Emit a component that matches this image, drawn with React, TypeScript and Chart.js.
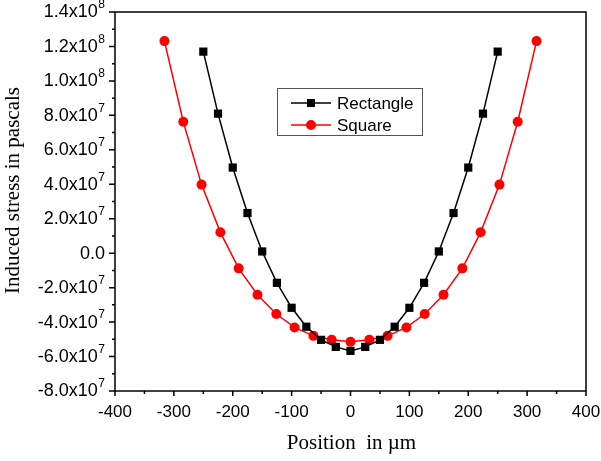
import React, { useEffect, useRef } from 'react';
import { Chart, registerables } from 'chart.js';

Chart.register(...registerables);

// Rectangle series
const rectPosition = [-250, -225, -200, -175, -150, -125, -100, -75, -50, -25, 0, 25, 50, 75, 100, 125, 150, 175, 200, 225, 250];
const rectStress = [11.7e7, 8.1e7, 4.97e7, 2.33e7, 0.1e7, -1.72e7, -3.17e7, -4.27e7, -5.03e7, -5.44e7, -5.67e7, -5.44e7, -5.03e7, -4.27e7, -3.17e7, -1.72e7, 0.1e7, 2.33e7, 4.97e7, 8.1e7, 11.7e7];

// Square series
const squarePosition = [-316, -284, -253, -221, -190, -158, -126, -95, -63, -32, 0, 32, 63, 95, 126, 158, 190, 221, 253, 284, 316];
const squareStress = [12.31e7, 7.63e7, 3.98e7, 1.21e7, -0.88e7, -2.41e7, -3.53e7, -4.31e7, -4.8e7, -5.03e7, -5.14e7, -5.03e7, -4.8e7, -4.31e7, -3.53e7, -2.41e7, -0.88e7, 1.21e7, 3.98e7, 7.63e7, 12.31e7];

const seriesNames = ['Rectangle', 'Square'];

// Y tick labels: mantissa part and superscript exponent
const yTickValues = [-8e7, -6e7, -4e7, -2e7, 0, 2e7, 4e7, 6e7, 8e7, 1e8, 1.2e8, 1.4e8];
const yTickBases = ['-8.0x10', '-6.0x10', '-4.0x10', '-2.0x10', '0.0', '2.0x10', '4.0x10', '6.0x10', '8.0x10', '1.0x10', '1.2x10', '1.4x10'];
const yTickExps = ['7', '7', '7', '7', '', '7', '7', '7', '7', '8', '8', '8'];

const xTitle = 'Position  in µm';
const yTitle = 'Induced stress in pascals';

const SANS = '"Liberation Sans", Arial, sans-serif';
const SERIF = '"Liberation Serif", "Times New Roman", serif';

const framePlugin = {
  id: 'frameTicks',
  beforeDatasetsDraw(chart: any) {
    const { ctx, chartArea } = chart;
    const xs = chart.scales.x;
    const ys = chart.scales.y;
    ctx.save();
    ctx.strokeStyle = '#000';
    ctx.lineWidth = 1.5;
    ctx.strokeRect(chartArea.left, chartArea.top, chartArea.right - chartArea.left, chartArea.bottom - chartArea.top);
    ctx.beginPath();
    for (let v = xs.min; v <= xs.max + 1e-6; v += 50) {
      const px = xs.getPixelForValue(v);
      const len = Math.abs(v % 100) < 1e-6 ? 5 : 3;
      ctx.moveTo(px, chartArea.bottom);
      ctx.lineTo(px, chartArea.bottom + len);
    }
    for (let v = ys.min; v <= ys.max + 1; v += 1e7) {
      const py = ys.getPixelForValue(v);
      const major = Math.abs(Math.round(v / 1e7)) % 2 === 0;
      const len = major ? 6 : 3;
      ctx.moveTo(chartArea.left, py);
      ctx.lineTo(chartArea.left - len, py);
    }
    ctx.stroke();

    // Y tick labels with superscript exponent
    ctx.fillStyle = '#000';
    ctx.textBaseline = 'middle';
    yTickValues.forEach((v, i) => {
      const py = ys.getPixelForValue(v);
      const right = chartArea.left - 10;
      ctx.font = '12px ' + SANS;
      const ew = yTickExps[i] ? ctx.measureText(yTickExps[i]).width + 0.5 : 0;
      ctx.textAlign = 'right';
      if (yTickExps[i]) {
        ctx.fillText(yTickExps[i], right, py - 7);
      }
      ctx.font = '18px ' + SANS;
      ctx.fillText(yTickBases[i], right - ew, py + 0.5);
    });

    // Axis titles
    ctx.font = '21px ' + SERIF;
    ctx.textAlign = 'center';
    ctx.textBaseline = 'alphabetic';
    ctx.fillText(xTitle, (chartArea.left + chartArea.right) / 2 + 1, chartArea.bottom + 58);
    ctx.save();
    ctx.translate(18.5, (chartArea.top + chartArea.bottom) / 2 - 11);
    ctx.rotate(-Math.PI / 2);
    ctx.fillText(yTitle, 0, 0);
    ctx.restore();
    ctx.restore();
  },
  afterDraw(chart: any) {
    const { ctx, chartArea } = chart;
    const bx = chartArea.left + 162;
    const by = chartArea.top + 76;
    const bw = 145;
    const bh = 47;
    ctx.save();
    ctx.fillStyle = '#fff';
    ctx.fillRect(bx, by, bw, bh);
    ctx.strokeStyle = '#555';
    ctx.lineWidth = 1;
    ctx.strokeRect(bx + 0.5, by + 0.5, bw, bh);
    chart.data.datasets.forEach((ds: any, i: number) => {
      const cy = by + 15 + i * 22;
      ctx.strokeStyle = ds.borderColor;
      ctx.lineWidth = 1.5;
      ctx.beginPath();
      ctx.moveTo(bx + 14, cy);
      ctx.lineTo(bx + 54, cy);
      ctx.stroke();
      ctx.fillStyle = ds.pointBackgroundColor;
      const mx = bx + 34;
      if (ds.pointStyle === 'rect') {
        ctx.fillRect(mx - 4, cy - 4, 8, 8);
      } else {
        ctx.beginPath();
        ctx.arc(mx, cy, 5, 0, Math.PI * 2);
        ctx.fill();
      }
      ctx.fillStyle = '#000';
      ctx.font = '17px ' + SANS;
      ctx.textBaseline = 'middle';
      ctx.textAlign = 'left';
      ctx.fillText(ds.label, bx + 60, cy + 1);
    });
    ctx.restore();
  },
};

export default function App() {
  const canvasRef = useRef<HTMLCanvasElement | null>(null);

  useEffect(() => {
    document.body.style.margin = '0';
    const canvas = canvasRef.current;
    if (!canvas) return;
    const chart = new Chart(canvas, {
      type: 'line',
      data: {
        datasets: [
          {
            label: seriesNames[0],
            data: rectPosition.map((x, i) => ({ x, y: rectStress[i] })),
            borderColor: '#000000',
            backgroundColor: '#000000',
            pointBackgroundColor: '#000000',
            pointBorderColor: '#000000',
            pointStyle: 'rect',
            pointRadius: 5.8,
            pointBorderWidth: 0,
            borderWidth: 1.5,
            tension: 0,
          },
          {
            label: seriesNames[1],
            data: squarePosition.map((x, i) => ({ x, y: squareStress[i] })),
            borderColor: '#ff0000',
            backgroundColor: '#ff0000',
            pointBackgroundColor: '#ff0000',
            pointBorderColor: '#ff0000',
            pointStyle: 'circle',
            pointRadius: 5,
            pointBorderWidth: 0,
            borderWidth: 1.5,
            tension: 0,
          },
        ],
      },
      options: {
        animation: false,
        responsive: false,
        maintainAspectRatio: false,
        layout: { padding: { top: 12, right: 15, left: 0, bottom: 0 } },
        plugins: {
          legend: { display: false },
          tooltip: { enabled: false },
        },
        scales: {
          x: {
            type: 'linear',
            min: -400,
            max: 400,
            grid: { display: false, drawTicks: false },
            border: { display: false },
            ticks: {
              stepSize: 100,
              color: '#000',
              padding: 11,
              font: { family: SANS, size: 17 },
              maxRotation: 0,
            },
            title: { display: false },
            afterFit: (s: any) => {
              s.height = 70;
              s.paddingLeft = 0;
              s.paddingRight = 0;
              s.paddingTop = 0;
              s.paddingBottom = 0;
            },
          },
          y: {
            type: 'linear',
            min: -8e7,
            max: 1.4e8,
            grid: { display: false, drawTicks: false },
            border: { display: false },
            afterBuildTicks: (s: any) => {
              s.ticks = yTickValues.map((v) => ({ value: v }));
            },
            ticks: { display: false },
            title: { display: false },
            afterFit: (s: any) => {
              s.width = 115;
              s.paddingLeft = 0;
              s.paddingRight = 0;
              s.paddingTop = 0;
              s.paddingBottom = 0;
            },
          },
        },
      },
      plugins: [framePlugin],
    });
    return () => chart.destroy();
  }, []);

  return (
    <div style={{ position: 'absolute', left: 0, top: 0, width: 601, height: 461, background: '#fff' }}>
      <canvas ref={canvasRef} width={601} height={461} style={{ width: 601, height: 461, display: 'block' }} />
    </div>
  );
}
